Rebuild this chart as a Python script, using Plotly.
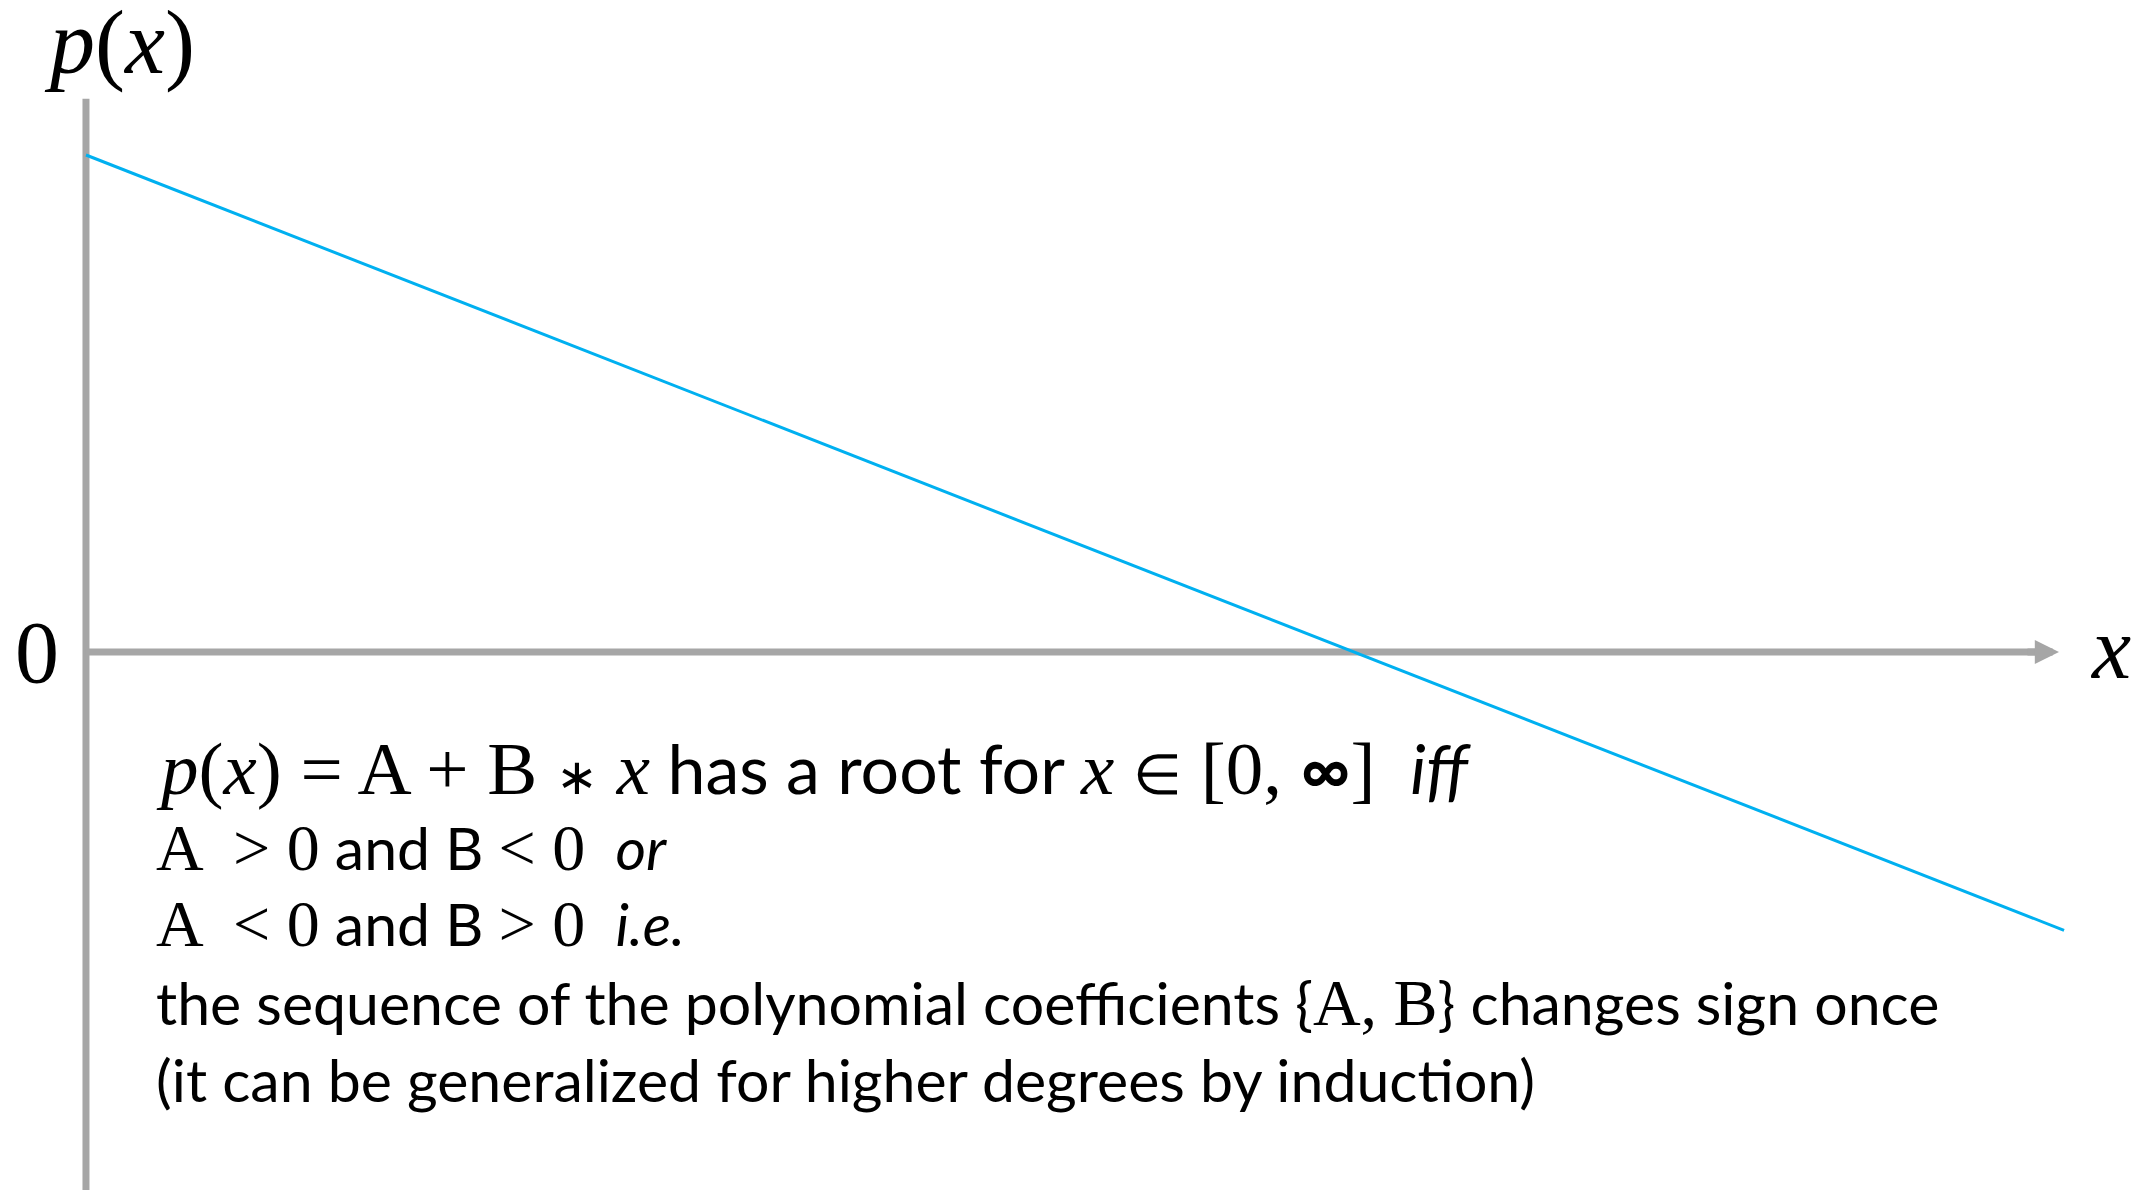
import plotly.graph_objects as go

# ---- data ----
X_VALS = [0.0, 1.56]          # x positions of the line ends
P_VALS = [1.0, -0.56]         # p(x) = A + B*x  with A=1, B=-1
AXIS_X_END = 1.56             # tip of the x-axis arrow
AXIS_Y_TOP = 1.113            # top of the p(x) axis

W, H = 2148, 1190
X_RANGE = [-0.0678, 1.6262]
Y_RANGE = [-1.0825, 1.3119]

GRAY = "#A6A6A6"
BLUE = "#00B0F0"
SERIF = "Liberation Serif"
SANS = "Lato"


def pxx(x):
    return x / W


def pyy(y):
    return 1 - y / H


def serif(t, size):
    return (f'<span style="font-family:{SERIF};font-size:{size}px;'
            f'font-weight:normal">{t}</span>')


def sans(t, size):
    return f'<span style="font-size:{size}px">{t}</span>'


fig = go.Figure()
fig.add_trace(go.Scatter(x=X_VALS, y=P_VALS, mode="lines",
                         line=dict(color=BLUE, width=3), hoverinfo="skip",
                         showlegend=False))

# axes
fig.add_shape(type="line", xref="x", yref="y", x0=0, x1=0, y0=Y_RANGE[0] - 0.05,
              y1=AXIS_Y_TOP, line=dict(color=GRAY, width=7), layer="below")
fig.add_shape(type="line", xref="x", yref="y", x0=0, x1=AXIS_X_END - 0.01, y0=0,
              y1=0, line=dict(color=GRAY, width=7), layer="below")
fig.add_annotation(x=AXIS_X_END - 0.004, y=0, ax=AXIS_X_END - 0.03, ay=0,
                   xref="x", yref="y", axref="x", ayref="y", text="",
                   showarrow=True, arrowhead=2, arrowsize=0.69, arrowwidth=7,
                   arrowcolor=GRAY)

S1, M1 = 68, 75
S2, M2 = 59, 66

labels = [
    # text, x_px, y_center_px, xanchor, font size, family
    ("<i>p</i>(<i>x</i>)", 42, 43, "left", 90, SERIF),
    ("0", 37, 652, "center", 88, SERIF),
    ("<i>x</i>", 2110, 648, "center", 88, SERIF),
]
for t, x, y, xa, s, fam in labels:
    fig.add_annotation(x=pxx(x), y=pyy(y), xref="paper", yref="paper", text=t,
                       showarrow=False, xanchor=xa, yanchor="middle",
                       font=dict(family=fam, size=s, color="black"))

line1 = (serif("<i>p</i>(<i>x</i>) = A + B ", M1)
         + serif("∗", 50)
         + serif(" <i>x</i>", M1)
         + sans(" has a root for ", S1)
         + serif("<i>x</i> ", M1)
         + serif("∈", 56)
         + serif(" [0, ", M1)
         + sans("<b>∞</b>", S1)
         + serif("]", M1)
         + sans("  <i>iff</i>", S1))
line2 = (serif("A  &gt; 0", M2) + " and B " + serif("&lt; 0", M2)
         + "  <i>or</i>")
line3 = (serif("A  &lt; 0", M2) + " and B " + serif("&gt; 0", M2)
         + "  <i>i.e.</i>")
line4 = ("the sequence of the polynomial coefficients {" + serif("A, B", M2)
         + "} changes sign once")
line5 = "(it can be generalized for higher degrees by induction)"

TEXT_LINES = [line1, line2, line3, line4, line5]
CENTERS = [768, 847, 923, 1002, 1079]
for t, yc in zip(TEXT_LINES, CENTERS):
    fig.add_annotation(x=pxx(154), y=pyy(yc), xref="paper", yref="paper",
                       text=t, showarrow=False, xanchor="left", yanchor="middle",
                       align="left",
                       font=dict(family=SANS, size=S2, color="black", weight=400))

fig.update_layout(
    width=W, height=H, margin=dict(l=0, r=0, t=0, b=0),
    paper_bgcolor="white", plot_bgcolor="white", showlegend=False,
    xaxis=dict(range=X_RANGE, visible=False, fixedrange=True),
    yaxis=dict(range=Y_RANGE, visible=False, fixedrange=True),
)
fig.write_html("out.html", config={"displayModeBar": False},
               post_script="document.body.style.margin='0';"
                           "document.body.style.overflow='hidden';")
